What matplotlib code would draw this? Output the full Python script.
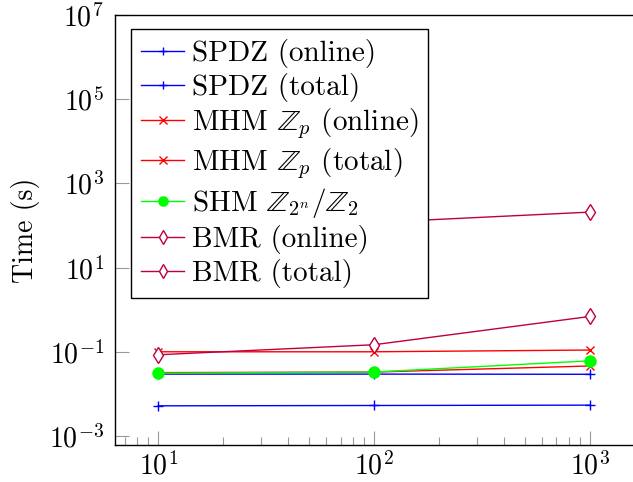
import matplotlib
matplotlib.use("Agg")
import matplotlib.pyplot as plt
from matplotlib.ticker import FixedLocator, NullLocator, NullFormatter, LogFormatterSciNotation

plt.rcParams['font.family'] = ['cmr10', 'DejaVu Serif']
plt.rcParams['mathtext.fontset'] = 'cm'
plt.rcParams['axes.formatter.use_mathtext'] = True
plt.rcParams['axes.unicode_minus'] = False

x = [10, 100, 1000]
spdz_online = [0.0052, 0.0053, 0.0054]
spdz_total = [0.0295, 0.0295, 0.0292]
mhm_online = [0.032, 0.033, 0.046]
mhm_total = [0.100, 0.100, 0.110]
shm = [0.031, 0.033, 0.061]
bmr_online = [0.085, 0.147, 0.69]
bmr_total = [95.0, 118.0, 208.0]

xticks = [10, 100, 1000]
xminor = [m * d for d in [1, 10, 100, 1000] for m in range(2, 10)]
yticks = [1e-3, 1e-1, 1e1, 1e3, 1e5, 1e7]

labels = ["SPDZ (online)", "SPDZ (total)", r"MHM $\mathbb{Z}_p$ (online)",
          r"MHM $\mathbb{Z}_p$ (total)", r"SHM $\mathbb{Z}_{2^n}/\mathbb{Z}_2$",
          "BMR (online)", "BMR (total)"]

blue = '#0000FF'
red = '#FF0000'
green = '#00FF00'
purple = '#BF0040'

fig = plt.figure(figsize=(6.33, 4.82), dpi=100)
ax = fig.add_axes([115/633, 37/482, 518/633, 430/482])

lw = 1.0
ax.plot(x, spdz_online, color=blue, marker='+', ms=7, mew=1.0, lw=lw, label=labels[0])
ax.plot(x, spdz_total, color=blue, marker='+', ms=7, mew=1.0, lw=lw, label=labels[1])
ax.plot(x, mhm_online, color=red, marker='x', ms=6, mew=1.0, lw=lw, label=labels[2])
ax.plot(x, mhm_total, color=red, marker='x', ms=6, mew=1.0, lw=lw, label=labels[3])
ax.plot(x, shm, color=green, marker='o', ms=9, mew=0, lw=lw, label=labels[4])
ax.plot(x, bmr_online, color=purple, marker='d', ms=8, mfc='white', mew=1.0, lw=lw, label=labels[5])
ax.plot(x, bmr_total, color=purple, marker='d', ms=8, mfc='white', mew=1.0, lw=lw, label=labels[6])

ax.set_xscale('log')
ax.set_yscale('log')
ax.set_xlim(10**0.8, 10**3.2)
ax.set_ylim(10**(-3 - 9/42), 1e7)

ax.yaxis.set_major_locator(FixedLocator(yticks))
ax.yaxis.set_major_formatter(LogFormatterSciNotation())
ax.yaxis.set_minor_locator(NullLocator())
ax.xaxis.set_major_locator(FixedLocator(xticks))
ax.xaxis.set_major_formatter(LogFormatterSciNotation())
ax.xaxis.set_minor_locator(FixedLocator([v for v in xminor if 10**0.8 <= v <= 10**3.2]))
ax.xaxis.set_minor_formatter(NullFormatter())

ax.tick_params(axis='both', which='major', direction='in', length=10, width=0.8,
               color='#999999', labelsize=20)
ax.tick_params(axis='y', which='major', pad=8)
ax.tick_params(axis='x', which='major', pad=5)
ax.tick_params(axis='x', which='minor', direction='in', length=6, width=0.8, color='#999999')
ax.spines['right'].set_visible(False)
for s in ['left', 'bottom', 'top']:
    ax.spines[s].set_linewidth(1.0)

ax.set_ylabel('Time (s)', fontsize=20, labelpad=6)

leg = ax.legend(loc='upper left', bbox_to_anchor=(0.031, 0.967), borderaxespad=0,
                fontsize=21, fancybox=False, framealpha=1, edgecolor='black',
                handlelength=1.5, handletextpad=0.25, labelspacing=0.17,
                borderpad=0.33, markerscale=0.85)
leg.get_frame().set_linewidth(1.0)

fig.savefig('out.png', dpi=100)
